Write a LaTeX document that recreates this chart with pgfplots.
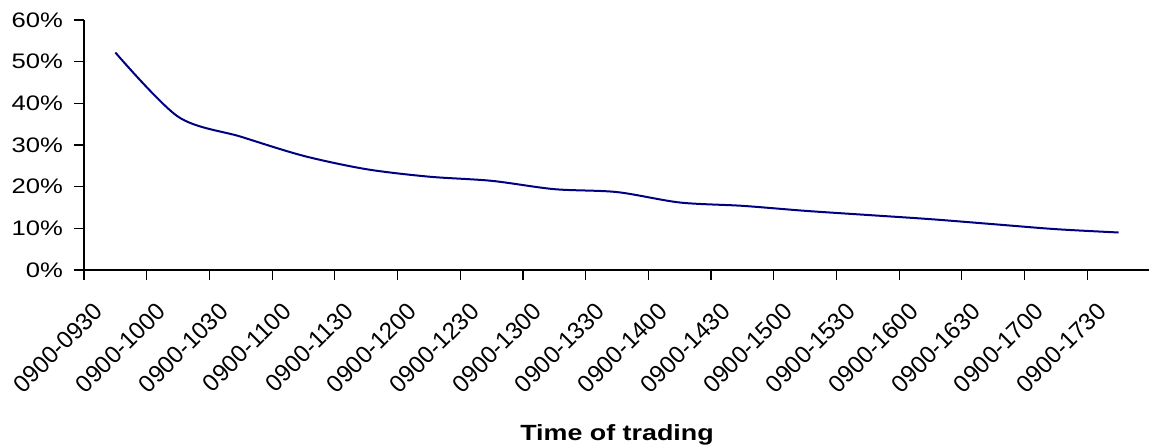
\documentclass[border=0pt]{standalone}
\usepackage{fontspec}
\setmainfont{Liberation Sans}[FakeStretch=1.22]
\newfontfamily\ticksans{Liberation Sans}
\usepackage{pgfplots}
\pgfplotsset{compat=1.18}
\definecolor{navyline}{RGB}{0,0,128}

\begin{document}
\begin{tikzpicture}
\begin{axis}[
    at={(0,0)}, anchor=south west,
    scale only axis,
    width=533pt, height=125pt,
    xmin=-0.5, xmax=16.5,
    ymin=0, ymax=60,
    axis lines*=left,
    axis line style={black, line width=0.6pt},
    tick style={black, line width=0.6pt},
    tick align=outside,
    major tick length=5pt,
    xtick={-0.5,0.5,...,16.5},
    x tick label as interval,
    xticklabels={0900-0930,0900-1000,0900-1030,0900-1100,0900-1130,0900-1200,
        0900-1230,0900-1300,0900-1330,0900-1400,0900-1430,0900-1500,
        0900-1530,0900-1600,0900-1630,0900-1700,0900-1730},
    xticklabel style={font=\ticksans\fontsize{12}{14}\selectfont,
        xshift=-8.25pt, yshift=-13.5pt, rotate=45, anchor=east, inner sep=0pt},
    ytick={0,10,...,60},
    yticklabels={0\%,10\%,20\%,30\%,40\%,50\%,60\%},
    yticklabel style={font=\fontsize{10.5}{12}\selectfont, xshift=-2pt},
    xlabel={\textbf{Time of trading}},
    xlabel style={font=\fontsize{11}{13}\selectfont,
        at={(axis description cs:0.5,0)}, anchor=base, yshift=-85pt},
]
\addplot[navyline, line width=1pt, smooth, tension=0.5] coordinates {
    (0,52.2) (1,36.8) (2,32.0) (3,27.4) (4,24.2) (5,22.4) (6,21.4)
    (7,19.4) (8,18.7) (9,16.2) (10,15.4) (11,14.2) (12,13.2) (13,12.2)
    (14,11.0) (15,9.8) (16,9.0)
};
\end{axis}
\pgfresetboundingbox
\path[use as bounding box] (-42pt,-89pt) rectangle (532.5pt,135pt);
\end{tikzpicture}
\end{document}
